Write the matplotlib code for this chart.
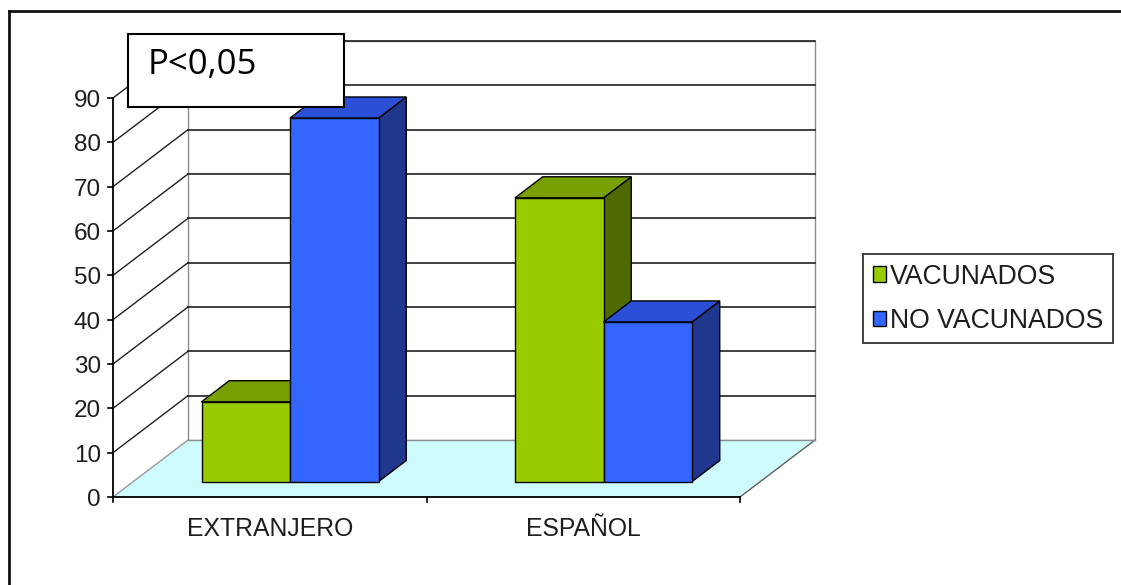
import matplotlib
matplotlib.use("Agg")
import matplotlib.pyplot as plt
from matplotlib.patches import Polygon, Rectangle, Patch
from matplotlib.lines import Line2D

# ---- data -------------------------------------------------------------
categories = ["EXTRANJERO", "ESPAÑOL"]
series_names = ["VACUNADOS", "NO VACUNADOS"]
vacunados = [18, 64]
no_vacunados = [82, 36]
y_ticks = [0, 10, 20, 30, 40, 50, 60, 70, 80, 90]
annotation = "P<0,05"

# ---- styling ----------------------------------------------------------
W, H = 1121, 585
FRONT = {"VACUNADOS": "#99cc00", "NO VACUNADOS": "#3366ff"}
TOP = {"VACUNADOS": "#77a000", "NO VACUNADOS": "#2b4fd6"}
SIDE = {"VACUNADOS": "#4f6b00", "NO VACUNADOS": "#1f378c"}
FLOOR = "#cdfbfe"
TXT = "#1e1e1e"

fig = plt.figure(figsize=(W / 100, H / 100), dpi=100)
# front plane of the 3-D box, in figure pixels
ax_left, ax_right, ax_bottom, ax_top = 113, 740, 497, 98
ax = fig.add_axes([ax_left / W, (H - ax_bottom) / H,
                   (ax_right - ax_left) / W, (ax_bottom - ax_top) / H])
ax.set_xlim(-0.5, 1.5)
ax.set_ylim(0, 90)
ax.axis("off")

# depth offset of the back wall, expressed in data units
px_per_x = (ax_right - ax_left) / 2.0
px_per_y = (ax_bottom - ax_top) / 90.0
DEPTH_DX = 75 / px_per_x
DEPTH_DY = 57 / px_per_y


def proj(x, v, d):
    """Oblique projection of (category x, value v, depth d in 0..1)."""
    return (x + DEPTH_DX * d, v + DEPTH_DY * d)


def poly(points, **kw):
    p = Polygon([proj(*pt) for pt in points], closed=True, clip_on=False, **kw)
    ax.add_patch(p)
    return p


def seg(a, b, **kw):
    (xa, ya), (xb, yb) = proj(*a), proj(*b)
    ax.add_line(Line2D([xa, xb], [ya, yb], clip_on=False, **kw))


x0, x1 = -0.5, 1.5
vmax = y_ticks[-1]

# back wall
poly([(x0, 0, 1), (x1, 0, 1), (x1, vmax, 1), (x0, vmax, 1)],
     facecolor="white", edgecolor="#8c8c8c", lw=1.0, zorder=1)
# floor
poly([(x0, 0, 0), (x1, 0, 0), (x1, 0, 1), (x0, 0, 1)],
     facecolor=FLOOR, edgecolor="none", zorder=1)
seg((x1, 0, 0), (x1, 0, 1), color="#606060", lw=1.0, zorder=2)
seg((x0, 0, 0), (x0, 0, 1), color="#9a9a9a", lw=1.0, zorder=2)
seg((x0, 0, 1), (x1, 0, 1), color="#8c8c8c", lw=1.0, zorder=2)

# gridlines: side wall diagonals + back wall horizontals
for v in y_ticks[1:]:
    seg((x0, v, 0), (x0, v, 1), color="#202020", lw=1.0, zorder=2)
    seg((x0, v, 1), (x1, v, 1), color="#202020", lw=1.2, zorder=2)

# value axis and category axis
ax.add_line(Line2D([x0, x0], [0, vmax], color="black", lw=1.3, clip_on=False, zorder=3))
ax.add_line(Line2D([x0, x1], [0, 0], color="black", lw=1.3, clip_on=False, zorder=3))
tick_len_x = 5 / px_per_x
tick_len_y = 5 / px_per_y
for v in y_ticks:
    ax.add_line(Line2D([x0 - tick_len_x, x0], [v, v], color="black", lw=1.2,
                       clip_on=False, zorder=3))
    ax.text(x0 - 12 / px_per_x, v - 9 / px_per_y, str(v), ha="right", va="baseline",
            fontsize=17.5, family="Liberation Sans", color=TXT)
for xb in [x0, 0.5, x1]:
    ax.add_line(Line2D([xb, xb], [0, -tick_len_y], color="black", lw=1.2,
                       clip_on=False, zorder=3))
for i, name in enumerate(categories):
    ax.text(i, -39 / px_per_y, name, ha="center", va="baseline",
            fontsize=17.8, family="Liberation Sans", color=TXT)

# bars
bar_w = 88.5 / px_per_x
d_front, d_back = 0.27, 0.64
for i in range(len(categories)):
    for j, (name, vals) in enumerate(zip(series_names, [vacunados, no_vacunados])):
        left = i - bar_w + j * bar_w
        right = left + bar_w
        h = vals[i]
        z = 4 + j
        # right side face
        poly([(right, 0, d_front), (right, 0, d_back), (right, h, d_back), (right, h, d_front)],
             facecolor=SIDE[name], edgecolor="black", lw=1.0, zorder=z)
        # top face
        poly([(left, h, d_front), (right, h, d_front), (right, h, d_back), (left, h, d_back)],
             facecolor=TOP[name], edgecolor="black", lw=1.0, zorder=z)
        # front face
        poly([(left, 0, d_front), (right, 0, d_front), (right, h, d_front), (left, h, d_front)],
             facecolor=FRONT[name], edgecolor="black", lw=1.0, zorder=z)

# legend
handles = [Patch(facecolor=FRONT[n], edgecolor="black", lw=1.0, label=n) for n in series_names]
leg = fig.legend(handles=handles, loc="upper left",
                 bbox_to_anchor=(863 / W, 1 - 254 / H),
                 prop={"family": "Liberation Sans", "size": 19.2},
                 frameon=True, fancybox=False, borderpad=0.36, labelspacing=0.68,
                 handlelength=0.52, handleheight=0.52, handletextpad=0.12,
                 borderaxespad=0.0)
leg.get_frame().set_edgecolor("black")
leg.get_frame().set_linewidth(1.3)
for t in leg.get_texts():
    t.set_color(TXT)

# outer frame (top and left edges)
fig.add_artist(Line2D([9 / W, 1.0], [1 - 11 / H, 1 - 11 / H], color="#111111", lw=2.0))
fig.add_artist(Line2D([9 / W, 9 / W], [0.0, 1 - 11 / H], color="#111111", lw=2.0))

# annotation box
fig.add_artist(Rectangle((128 / W, 1 - 107 / H), (344 - 128) / W, (107 - 34) / H,
                         transform=fig.transFigure, facecolor="white",
                         edgecolor="black", lw=1.5, zorder=10))
fig.text(148 / W, 1 - 74 / H, annotation, ha="left", va="baseline",
         fontsize=25, family="Open Sans", color="black", zorder=11)

fig.savefig("out.png", dpi=100, facecolor="white")
